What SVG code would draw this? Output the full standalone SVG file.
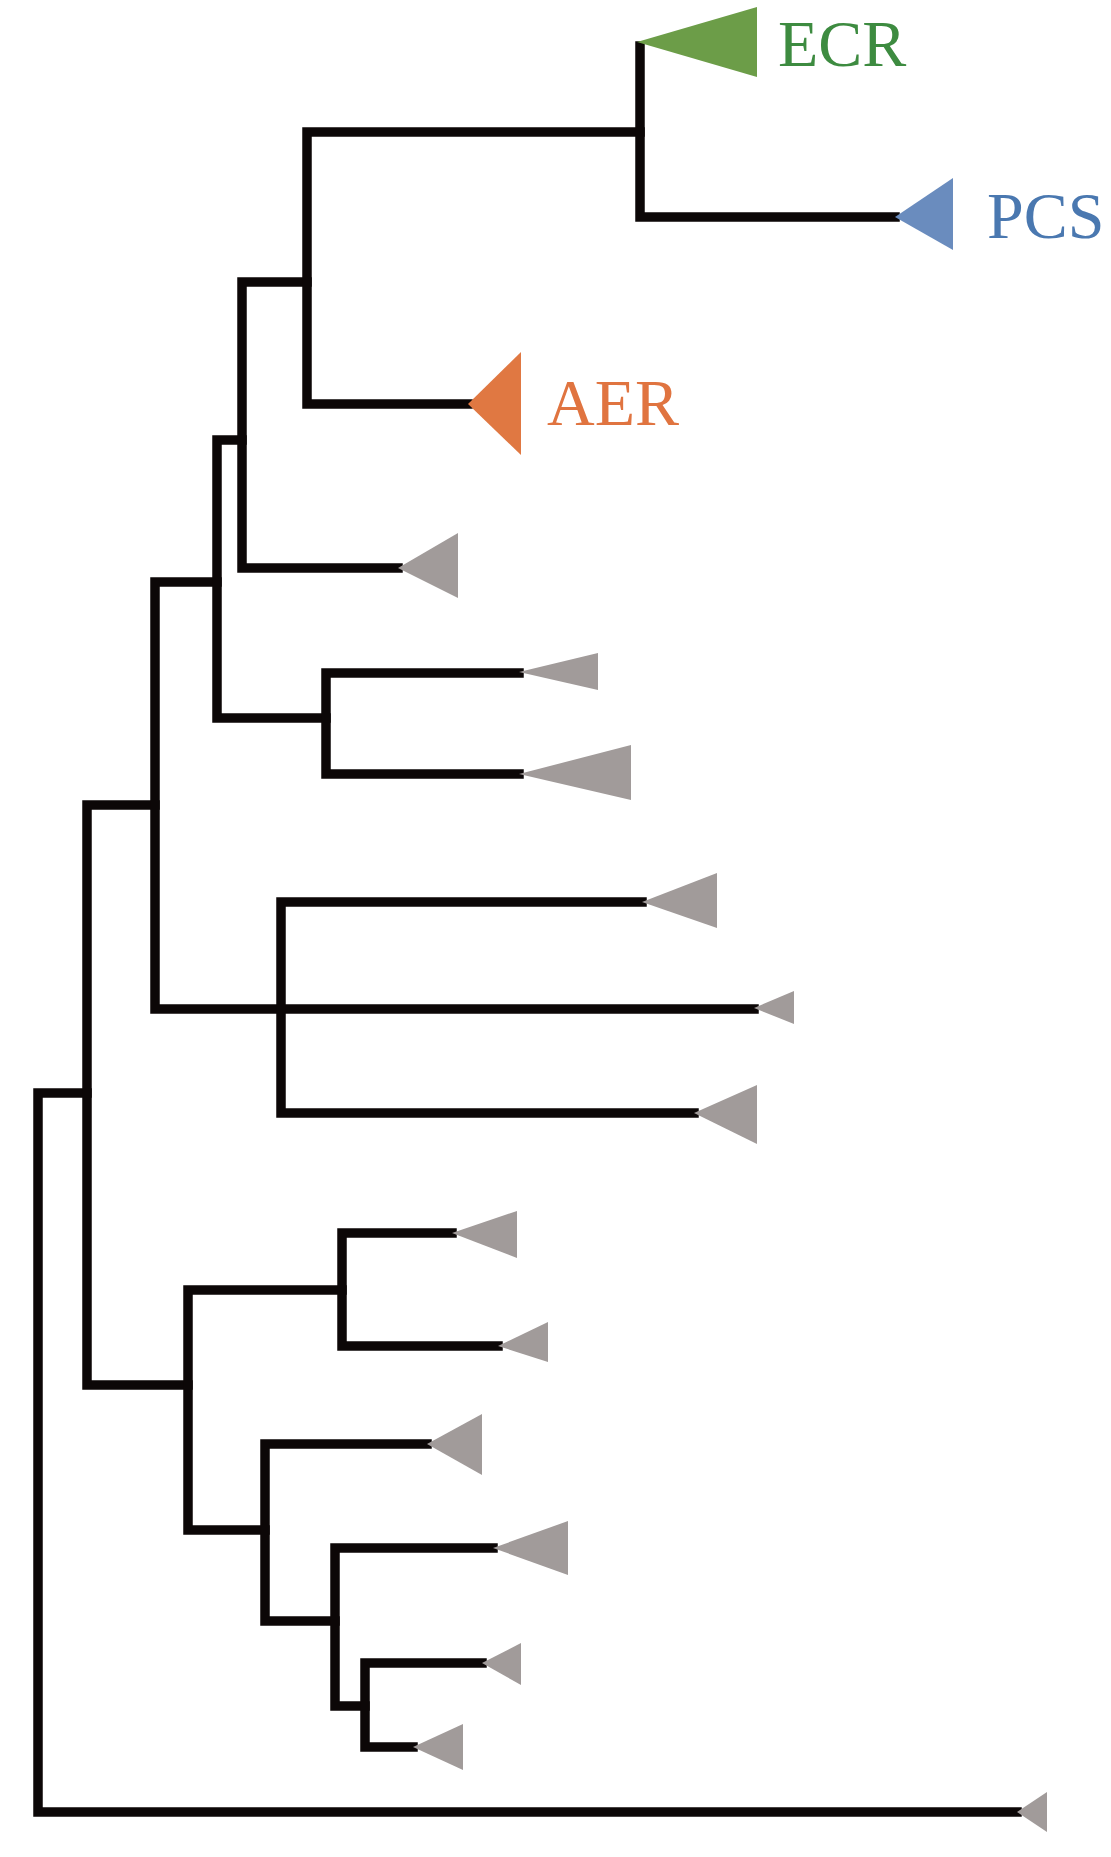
<svg xmlns="http://www.w3.org/2000/svg" width="1111" height="1857" viewBox="0 0 1111 1857">
<style>
.br{fill:none;stroke:#0c0707;stroke-width:9.5;stroke-linecap:square;stroke-linejoin:miter}
.gray{fill:#a19b9a}
.ecr{fill:#6c9d48}
.pcs{fill:#6a8cbe}
.aer{fill:#e07842}
.lbl{font-family:"Liberation Serif","Times New Roman",serif;font-size:66px}
</style>
<rect width="1111" height="1857" fill="#ffffff"/>
<g id="connectors">
<path class="br" d="M1017,1812 H38 V1093 H87"/>
<path class="br" d="M155,805 H87 V1385 H188"/>
<path class="br" d="M217,582 H155 V1009 H754"/>
<path class="br" d="M642,902 H281 V1113 H694"/>
<path class="br" d="M242,440 H217 V718 H326"/>
<path class="br" d="M307,282 H242 V568 H398"/>
<path class="br" d="M640,132 H307 V404 H468"/>
<path class="br" d="M640,46 V217 H895"/>
<path class="br" d="M519,673 H326 V774 H519"/>
<path class="br" d="M342,1290 H188 V1530 H265"/>
<path class="br" d="M452,1233 H342 V1346 H498"/>
<path class="br" d="M427,1444 H265 V1621 H335"/>
<path class="br" d="M493,1548 H335 V1706 H365"/>
<path class="br" d="M482,1663 H365 V1747 H413"/>
</g>
<g id="node-ecr">
<polygon class="ecr" points="637,42 757,7 757,77"/>
<text class="lbl" x="778" y="66" fill="#3d8b40">ECR</text>
</g>
<g id="node-pcs">
<polygon class="pcs" points="895,217 953,178 953,250"/>
<text class="lbl" x="987" y="238" fill="#4a78b0">PCS</text>
</g>
<g id="node-aer">
<polygon class="aer" points="468,404 521,352 521,455"/>
<text class="lbl" x="547" y="425" font-size="67" fill="#e07440">AER</text>
</g>
<g id="leaf-1"><polygon class="gray" points="398,568 458,533 458,598"/></g>
<g id="leaf-2"><polygon class="gray" points="519,672 598,653 598,690"/></g>
<g id="leaf-3"><polygon class="gray" points="519,774 631,745 631,800"/></g>
<g id="leaf-4"><polygon class="gray" points="642,902 717,873 717,928"/></g>
<g id="leaf-5"><polygon class="gray" points="754,1008 794,991 794,1024"/></g>
<g id="leaf-6"><polygon class="gray" points="694,1113 757,1085 757,1144"/></g>
<g id="leaf-7"><polygon class="gray" points="452,1233 517,1211 517,1258"/></g>
<g id="leaf-8"><polygon class="gray" points="498,1346 548,1322 548,1362"/></g>
<g id="leaf-9"><polygon class="gray" points="427,1444 482,1414 482,1475"/></g>
<g id="leaf-10"><polygon class="gray" points="493,1548 568,1521 568,1575"/></g>
<g id="leaf-11"><polygon class="gray" points="482,1663 521,1643 521,1685"/></g>
<g id="leaf-12"><polygon class="gray" points="413,1747 463,1724 463,1770"/></g>
<g id="leaf-13"><polygon class="gray" points="1017,1812 1047,1792 1047,1832"/></g>
</svg>
